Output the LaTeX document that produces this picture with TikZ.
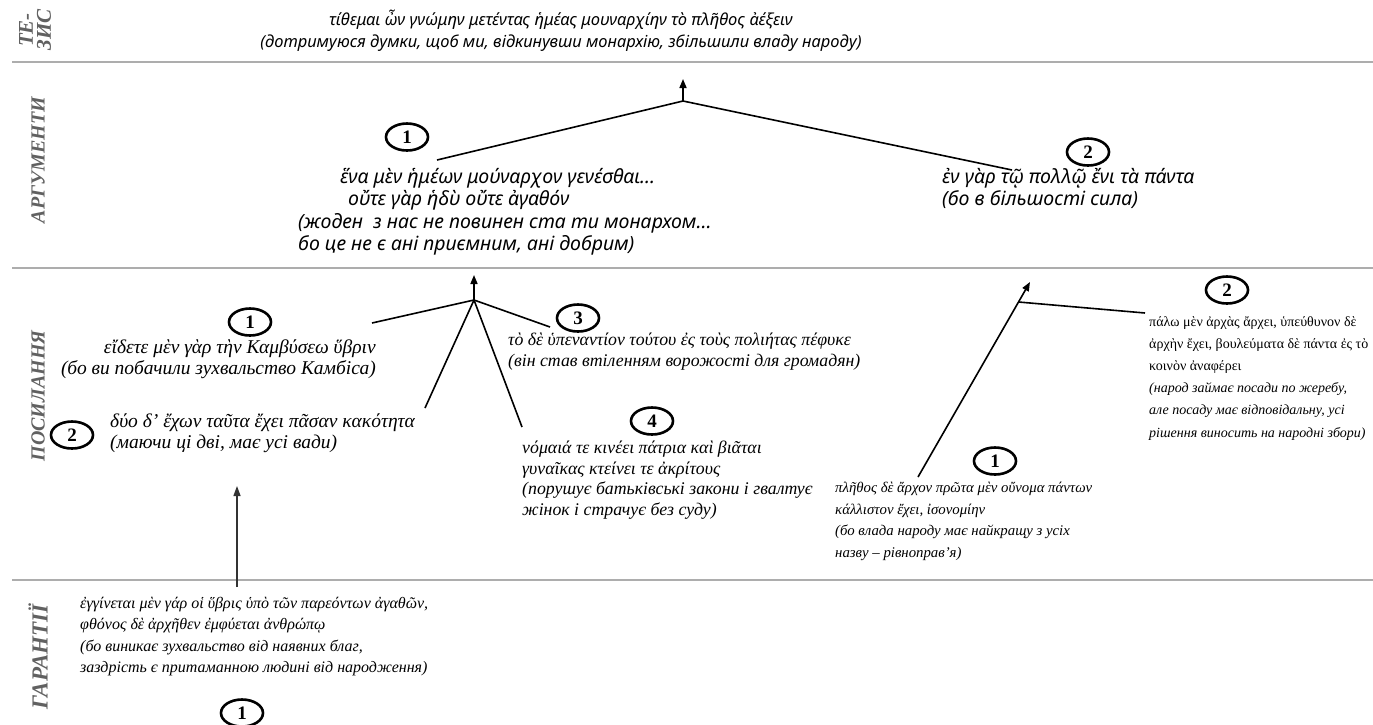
\documentclass[tikz,border=0pt]{standalone}
\usepackage{fontspec}
\setmainfont{Liberation Serif}
\newfontfamily\gsans{Noto Sans}
\usetikzlibrary{arrows.meta,shapes.geometric}

\tikzset{
  sep/.style={draw=black!32, line width=2pt},
  rowlabel/.style={rotate=90, text=black!62, align=center, inner sep=0,
    font=\bfseries\itshape\fontsize{20}{18}\selectfont},
  sanstext/.style={inner sep=0, align=left, font=\gsans\itshape\fontsize{16.5}{22.3}\selectfont},
  argtext/.style={inner sep=0, align=left, font=\gsans\itshape\fontsize{19.5}{22.5}\selectfont},
  sertext/.style={inner sep=0, align=left, font=\itshape\fontsize{17.8}{20.5}\selectfont},
  bigtext/.style={inner sep=0, align=left, font=\itshape\fontsize{19.5}{21}\selectfont},
  smalltext/.style={inner sep=0, align=left, font=\itshape\fontsize{14}{22.2}\selectfont},
  num/.style={draw, ellipse, line width=2.6pt, minimum width=42pt, minimum height=27pt,
    inner sep=0, font=\bfseries\fontsize{19}{19}\selectfont},
  link/.style={line width=1.6pt},
  arrowlink/.style={line width=1.6pt, -{Triangle[length=9pt,width=7pt]}},
  thinarrow/.style={line width=1.3pt, draw=black!80, -{Triangle[length=10pt,width=7pt]}}
}

\begin{document}
\begin{tikzpicture}[x=1pt,y=-1pt]
\fill[white] (0,0) rectangle (1373,724);
\useasboundingbox (0,0) rectangle (1373,724);

% row separators
\draw[sep] (12,62) -- (1373,62);
\draw[sep] (12,268) -- (1373,268);
\draw[sep] (12,580) -- (1373,580);

% row labels
\node[rowlabel, font=\bfseries\itshape\fontsize{21}{18}\selectfont] (lt) at (35,30) {ТЕ-\\ЗИС};
\node[rowlabel] (la) at (38,160) {АРГУМЕНТИ};
\node[rowlabel] (lp) at (38,396) {ПОСИЛАННЯ};
\node[rowlabel, font=\bfseries\itshape\fontsize{23}{18}\selectfont] (lg) at (38,657) {ГАРАНТІЇ};

% thesis
\node[sanstext, align=center] (thesis) at (561,31)
  {τίθεμαι ὦν γνώμην μετέντας ἡμέας μουναρχίην τὸ πλῆθος ἀέξειν\\
   (дотримуюся думки, щоб ми, відкинувши монархію, збільшили владу народу)};

% arguments
\node[num] (a1n) at (407,137) {1};
\node[argtext, anchor=north west] (a1) at (298,168)
  {\hspace*{42pt}ἕνα μὲν ἡμέων μούναρχον γενέσθαι...\\
   \hspace*{50pt}οὔτε γὰρ ἡδὺ οὔτε ἀγαθόν\\
   (жоден\ \ з нас не повинен ста ти монархом...\\
   бо це не є ані приємним, ані добрим)};
\node[num] (a2n) at (1088,152) {2};
\node[argtext, anchor=north west] (a2) at (942,168)
  {ἐν γὰρ τῷ πολλῷ ἔνι τὰ πάντα\\
   (бо в більшості сила)};

\coordinate (tj) at (683,101);
\coordinate (ttip) at (683,79);
\coordinate (a1e) at (437,160);
\coordinate (a2e) at (1012,170);
\draw[link] (a1e) -- (tj) -- (a2e);
\draw[arrowlink] (tj) -- (ttip);

% grounds
\node[num] (p1n) at (250,322) {1};
\node[bigtext, anchor=north east, align=right] (p1) at (376,340)
  {εἴδετε μὲν γὰρ τὴν Καμβύσεω ὕβριν\\
   (бо ви побачили зухвальство Камбіса)};
\node[num] (p2n) at (72,435) {2};
\node[bigtext, anchor=north west] (p2) at (110,414)
  {δύο δ’ ἔχων ταῦτα ἔχει πᾶσαν κακότητα\\
   (маючи ці дві, має усі вади)};
\node[num] (p3n) at (578,318) {3};
\node[sertext, anchor=north west] (p3) at (508,333)
  {τὸ δὲ ὑπεναντίον τούτου ἐς τοὺς πολιήτας πέφυκε\\
   (він став втіленням ворожості для громадян)};
\node[num] (p4n) at (652,421) {4};
\node[sertext, anchor=north west] (p4) at (522,441)
  {νόμαιά τε κινέει πάτρια καὶ βιᾶται\\
   γυναῖκας κτείνει τε ἀκρίτους\\
   (порушує батьківські закони і гвалтує\\
   жінок і страчує без суду)};

\coordinate (pj) at (474,300);
\coordinate (ptip) at (474,275);
\coordinate (p1e) at (372,323);
\coordinate (p2e) at (425,408);
\coordinate (p4e) at (522,427);
\coordinate (p3e) at (550,327);
\draw[link] (p1e) -- (pj) -- (p3e);
\draw[link] (p2e) -- (pj) -- (p4e);
\draw[arrowlink] (pj) -- (ptip);

\node[num] (r2n) at (1227,290) {2};
\node[smalltext, anchor=north west] (r2) at (1149,316)
  {\upshape πάλω μὲν ἀρχὰς ἄρχει, ὑπεύθυνον δὲ\\
   \upshape ἀρχὴν ἔχει, βουλεύματα δὲ πάντα ἐς τὸ\\
   \upshape κοινὸν ἀναφέρει\\
   (народ займає посади по жеребу,\\
   але посаду має відповідальну, усі\\
   рішення виносить на народні збори)};
\node[num] (r1n) at (995,461) {1};
\node[smalltext, anchor=north west, font=\itshape\fontsize{14.8}{21.5}\selectfont] (r1) at (835,482)
  {πλῆθος δὲ ἄρχον πρῶτα μὲν οὔνομα πάντων\\
   κάλλιστον ἔχει, ἰσονομίην\\
   (бо влада народу має найкращу з усіх\\
   назву – рівноправ’я)};

\coordinate (r1e) at (918,477);
\coordinate (rtip) at (1030,282);
\coordinate (rj) at (1018.5,302);
\coordinate (r2e) at (1145,313);
\draw[arrowlink] (r1e) -- (rtip);
\draw[link] (rj) -- (r2e);

% warrant
\node[sertext, anchor=north west, font=\itshape\fontsize{16}{21.5}\selectfont] (g1) at (80,597)
  {ἐγγίνεται μὲν γάρ οἱ ὕβρις ὑπὸ τῶν παρεόντων ἀγαθῶν,\\
   φθόνος δὲ ἀρχῆθεν ἐμφύεται ἀνθρώπῳ\\
   (бо виникає зухвальство від наявних благ,\\
   заздрість є притаманною людині від народження)};
\node[num] (g1n) at (242,713) {1};
\coordinate (gs) at (237,587);
\coordinate (gtip) at (237,486);
\draw[thinarrow] (gs) -- (gtip);
\end{tikzpicture}
\end{document}
